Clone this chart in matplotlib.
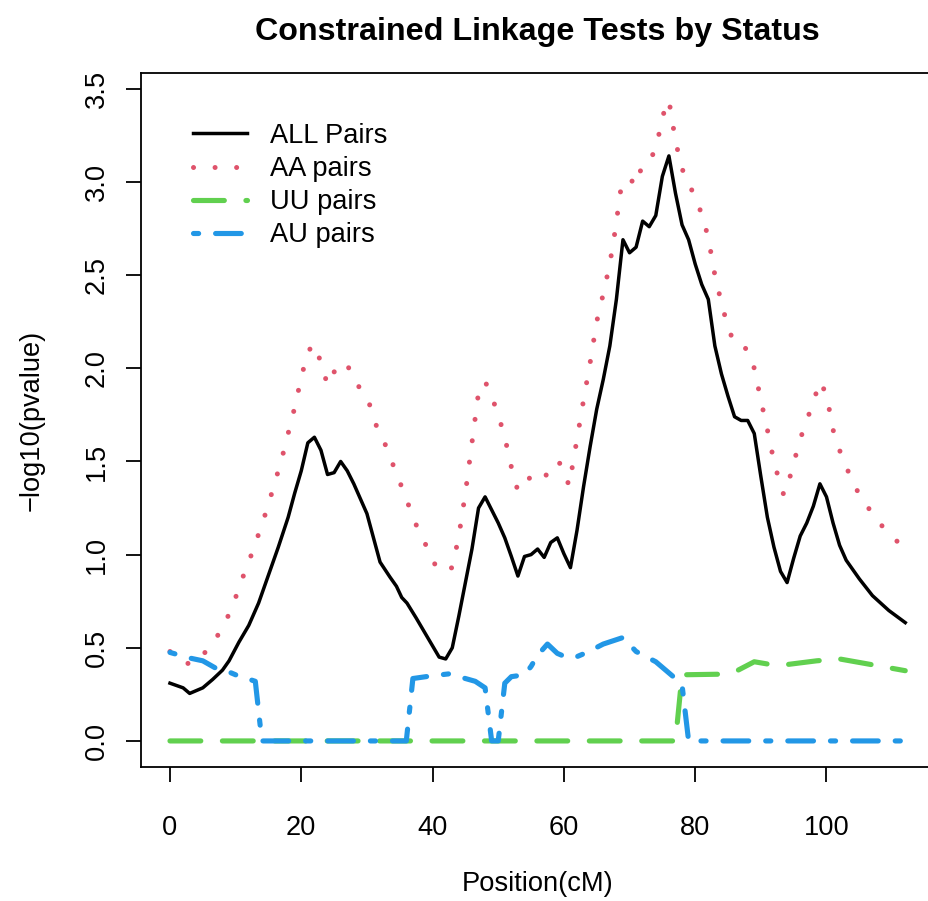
import matplotlib
matplotlib.use('Agg')
import matplotlib.pyplot as plt

plt.rcParams['font.family'] = ['Liberation Sans', 'DejaVu Sans']

# -log10(p) along the chromosome
all_pos = [0, 2, 3, 5, 6.5, 8, 9, 10.5, 12, 13.5, 15, 16.5, 18, 19, 20, 21, 22, 23, 24, 25,
           26, 27, 28, 29, 30, 31, 32, 33.5, 34.5, 35.3, 36.1, 37.5, 39, 40.5, 41, 42, 43, 44, 45, 46,
           47, 48, 49, 50, 51, 52, 53, 54, 55, 56, 57, 58, 59, 60, 61, 62, 63, 64, 65, 66,
           67, 68, 69, 70, 71, 72, 73, 74, 75, 76, 77, 78, 79, 80, 81, 82, 83, 84, 85, 86,
           87, 88, 89, 90, 91, 92, 93, 94, 95, 96, 97, 98, 99, 100, 101, 102, 103, 105, 107, 109.5, 112]
all_val = [0.31, 0.285, 0.255, 0.285, 0.33, 0.38, 0.43, 0.53, 0.62, 0.74, 0.89, 1.04, 1.2, 1.33, 1.45, 1.60, 1.63, 1.56, 1.43, 1.44,
           1.50, 1.45, 1.38, 1.30, 1.22, 1.09, 0.96, 0.88, 0.83, 0.77, 0.74, 0.66, 0.57, 0.48, 0.45, 0.44, 0.50, 0.67, 0.85, 1.03,
           1.25, 1.31, 1.24, 1.17, 1.09, 0.99, 0.885, 0.99, 1.00, 1.03, 0.985, 1.065, 1.09, 1.005, 0.93, 1.13, 1.365, 1.58, 1.78, 1.94,
           2.12, 2.37, 2.69, 2.62, 2.65, 2.79, 2.76, 2.82, 3.03, 3.14, 2.94, 2.77, 2.69, 2.56, 2.45, 2.37, 2.12, 1.97, 1.85, 1.74,
           1.72, 1.72, 1.65, 1.42, 1.20, 1.04, 0.91, 0.85, 0.98, 1.10, 1.17, 1.26, 1.38, 1.31, 1.17, 1.05, 0.97, 0.87, 0.78, 0.70, 0.635]

aa_pos = [0, 3, 5, 7, 8.5, 10, 11, 12, 13, 14, 15, 16, 17, 18, 19, 20, 21, 22, 23, 24,
          25, 26, 27, 28, 29, 30, 31, 32, 33, 34, 35, 36, 37, 38, 39, 40, 41, 43, 44, 45,
          46, 47, 48, 49, 50, 51, 52, 53, 55, 57, 58, 59.5, 60.8, 62, 63, 64, 65, 66, 67, 68,
          68.5, 69, 70, 71, 72, 73, 74, 75, 76, 77, 78, 79, 80, 81, 82, 83, 84, 85, 86, 87,
          88, 89, 90, 91, 92, 93, 93.5, 94, 95, 96, 97, 98, 99, 100, 101, 102, 103, 105, 107, 109, 112]
aa_val = [0.48, 0.41, 0.46, 0.55, 0.64, 0.77, 0.87, 0.96, 1.06, 1.16, 1.27, 1.39, 1.51, 1.65, 1.79, 1.95, 2.09, 2.13, 2.03, 1.91,
          1.98, 2.03, 2.02, 1.94, 1.89, 1.85, 1.74, 1.63, 1.58, 1.48, 1.39, 1.30, 1.20, 1.12, 1.05, 0.97, 0.91, 0.93, 1.10, 1.33,
          1.60, 1.87, 1.93, 1.85, 1.75, 1.63, 1.47, 1.34, 1.42, 1.40, 1.49, 1.49, 1.37, 1.62, 1.83, 2.03, 2.25, 2.40, 2.56, 2.78,
          2.93, 3.0, 3.02, 2.98, 3.10, 3.12, 3.17, 3.35, 3.44, 3.22, 3.07, 3.0, 2.91, 2.83, 2.70, 2.50, 2.35, 2.22, 2.13, 2.12,
          2.10, 2.0, 1.83, 1.67, 1.50, 1.37, 1.32, 1.36, 1.49, 1.62, 1.72, 1.82, 1.93, 1.86, 1.67, 1.56, 1.47, 1.32, 1.22, 1.13, 1.03]

uu_pos = [0, 77, 78, 83.5, 86, 89, 91, 94, 98.5, 102, 106, 112]
uu_val = [0, 0, 0.355, 0.358, 0.37, 0.425, 0.413, 0.41, 0.43, 0.44, 0.415, 0.377]

au_pos = [0, 3, 5, 7, 9, 10, 13, 14, 36, 37, 40, 42.5, 46.5, 48, 49, 50, 51, 52, 54, 55,
          56, 57.5, 59, 60, 61.5, 63.5, 66, 69, 71, 74, 77.5, 78, 79, 112]
au_val = [0.475, 0.445, 0.43, 0.39, 0.37, 0.355, 0.32, 0, 0, 0.335, 0.35, 0.36, 0.32, 0.285, 0, 0, 0.31, 0.345, 0.355, 0.40,
          0.46, 0.52, 0.47, 0.455, 0.445, 0.475, 0.52, 0.555, 0.48, 0.425, 0.32, 0.30, 0, 0]

labels = ['ALL Pairs', 'AA pairs', 'UU pairs', 'AU pairs']

fs = 19.6

fig = plt.figure(figsize=(9.29, 9.01), dpi=100)
# box runs a little past the right edge, like the cropped original
ax = fig.add_axes([0.1513, 0.1487, 0.8548, 0.7703])

ax.plot(all_pos, all_val, color='black', lw=2.5, solid_joinstyle='round', label=labels[0])
ax.plot(aa_pos, aa_val, color='#DF536B', lw=3.6, dashes=(0.01, 4.3), dash_capstyle='round', label=labels[1])
ax.plot(uu_pos, uu_val, color='#61D04F', lw=3.7, dashes=(6, 4.2), dash_capstyle='round', label=labels[2])
ax.plot(au_pos, au_val, color='#2297E6', lw=3.7, dashes=(1, 3.3, 5, 3.3), dash_capstyle='round', label=labels[3])

ax.set_xlim(-4.48, 116.48)
ax.set_ylim(-0.14, 3.585)
ax.set_xticks([0, 20, 40, 60, 80, 100])
ax.set_yticks([0, 0.5, 1, 1.5, 2, 2.5, 3, 3.5])
ax.set_yticklabels(['0.0', '0.5', '1.0', '1.5', '2.0', '2.5', '3.0', '3.5'], rotation=90, va='center')
ax.tick_params(axis='both', labelsize=fs, length=11, width=1.3, direction='out')
ax.tick_params(axis='x', pad=23.5)
ax.tick_params(axis='y', pad=11)
for s in ax.spines.values():
    s.set_linewidth(1.3)

ax.set_title('Constrained Linkage Tests by Status', fontsize=23.2, fontweight='bold', pad=23.5)
ax.set_xlabel('Position(cM)', fontsize=fs, va='center')
ax.xaxis.set_label_coords(0.5, -0.1686)
ax.set_ylabel('\u2212log10(pvalue)', fontsize=fs, va='center')
ax.yaxis.set_label_coords(-0.1368, 0.5)

ax.legend(loc='upper left', bbox_to_anchor=(0.066, 0.928), frameon=False, fontsize=fs,
          borderpad=0, borderaxespad=0, handlelength=1.97, handletextpad=0.85, labelspacing=0.26)

fig.savefig('out.png', dpi=100)
